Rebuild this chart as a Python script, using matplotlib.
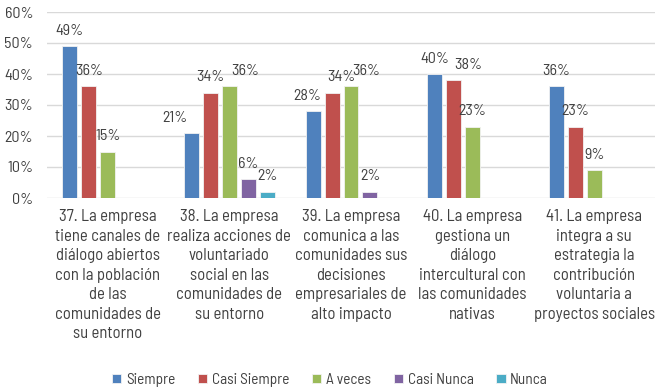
import matplotlib
matplotlib.use("Agg")
import matplotlib.pyplot as plt
import numpy as np

categories = [
    "37. La empresa\ntiene canales de\ndiálogo abiertos\ncon la población\nde las\ncomunidades de\nsu entorno",
    "38. La empresa\nrealiza acciones de\nvoluntariado\nsocial en las\ncomunidades de\nsu entorno",
    "39. La empresa\ncomunica a las\ncomunidades sus\ndecisiones\nempresariales de\nalto impacto",
    "40. La empresa\ngestiona un\ndiálogo\nintercultural con\nlas comunidades\nnativas",
    "41. La empresa\nintegra a su\nestrategia la\ncontribución\nvoluntaria a\nproyectos sociales",
]
series_names = ["Siempre", "Casi Siempre", "A veces", "Casi Nunca", "Nunca"]
siempre = [49, 21, 28, 40, 36]
casi_siempre = [36, 34, 34, 38, 23]
a_veces = [15, 36, 36, 23, 9]
casi_nunca = [0, 6, 2, 0, 0]
nunca = [0, 2, 0, 0, 0]
series = [siempre, casi_siempre, a_veces, casi_nunca, nunca]
colors = ["#4F81BD", "#C0504D", "#9BBB59", "#8064A2", "#4BACC6"]
# horizontal label nudges (pixels) to mimic the reference placement
nudges = {(1, 0): -17, (1, 2): 16, (2, 0): -6, (2, 1): 9, (2, 2): 15, (3, 1): 15}

plt.rcParams['font.family'] = ['Barlow Semi Condensed', 'DejaVu Sans']
txt = "#404040"

fig = plt.figure(figsize=(6.6, 3.91), dpi=100)
ax = fig.add_axes([47/660, (391-198)/391, (655-47)/660, (198-12)/391])

x = np.arange(len(categories))
w = 0.123
step = 0.156
for si, (vals, col, name) in enumerate(zip(series, colors, series_names)):
    pos = x + (si - 2) * step
    ax.bar(pos, vals, width=w, color=col, edgecolor="#F2F2F2", linewidth=0.6,
           label=name, zorder=3)
    for ci, (p, v) in enumerate(zip(pos, vals)):
        if v > 0:
            ax.annotate(f"{v}%", (p, v), xytext=(nudges.get((ci, si), 0) * 0.72, 6),
                        textcoords="offset points", ha="center", va="bottom",
                        fontsize=11.5, color=txt)

ax.set_xlim(-0.5, 4.5)
ax.set_ylim(0, 60)
ax.set_yticks(range(0, 61, 10))
ax.set_yticklabels([f"{t}%" for t in range(0, 61, 10)], fontsize=11.5, color=txt)
ax.yaxis.grid(True, color="#D9D9D9", linewidth=1, zorder=0)
ax.set_xticks(x)
ax.set_xticklabels(categories, fontsize=12, color=txt, linespacing=1.38, va="top")
ax.tick_params(axis="both", length=0)
ax.tick_params(axis="x", pad=8)
ax.tick_params(axis="y", pad=10)
for s in ax.spines.values():
    s.set_visible(False)

fig.legend(loc="center", bbox_to_anchor=(0.5, 1 - 380/391), ncol=5, frameon=False,
           fontsize=11, handlelength=0.6, handleheight=0.6, handletextpad=0.3,
           columnspacing=1.5, labelcolor=txt)

fig.savefig("out.png", dpi=100)
